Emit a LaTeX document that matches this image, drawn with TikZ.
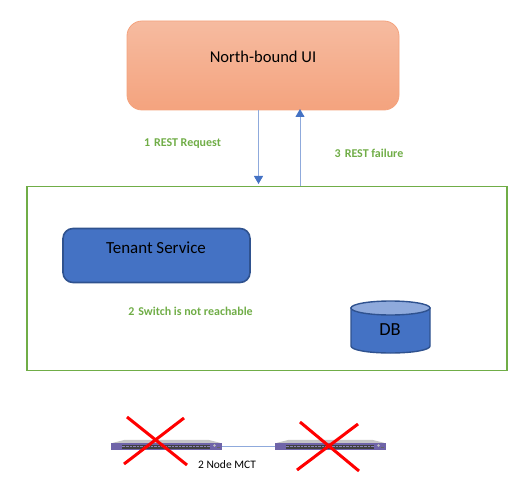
\documentclass[tikz,border=0pt]{standalone}
\usepackage{fontspec}
\setmainfont{Carlito}
\usetikzlibrary{arrows.meta,calc}
\definecolor{blueF}{HTML}{4472C4}
\definecolor{blueD}{HTML}{2F528F}
\definecolor{blueL}{HTML}{8FAADC}
\definecolor{grn}{HTML}{70AD47}
\definecolor{orgT}{HTML}{F6BBA0}
\definecolor{orgB}{HTML}{F4A37E}
\definecolor{sw}{HTML}{6F64A8}
\tikzset{
  x=1bp,y=-1bp,
  uibox/.style={draw=orgB,line width=0.8bp,rounded corners=15bp,top color=orgT,bottom color=orgB,minimum width=272bp,minimum height=89bp,inner sep=0pt},
  svcbox/.style={draw=blueD,line width=1.6bp,rounded corners=10bp,fill=blueF,minimum width=187bp,minimum height=54bp,inner sep=0pt},
  region/.style={draw=grn,line width=1.5bp,minimum width=480bp,minimum height=184bp,inner sep=0pt},
  flow/.style={draw=blueL,line width=0.9bp,-{Triangle[length=8bp,width=9bp,color=blueF,fill=blueF]}},
  steplabel/.style={text=grn,font=\fontsize{12}{14}\selectfont\bfseries,inner sep=0pt},
  bigtext/.style={font=\fontsize{17}{20}\selectfont,inner sep=0pt},
  swbody/.style={fill=sw,draw=none,minimum width=111bp,minimum height=7bp,inner sep=0pt},
  cross/.style={draw=red,line width=3bp},
}
\begin{document}
\begin{tikzpicture}
\useasboundingbox (0,0) rectangle (524,485);
% north-bound UI
\node[uibox] (ui) at (263,65.5) {};
\node[font=\fontsize{16.6}{20}\selectfont,inner sep=0pt] (uit) at (263,57) {North-bound UI};
% region
\node[region] (reg) at (267,278.5) {};
% arrows
\coordinate (reqs) at (258.5,110);
\coordinate (reqe) at (258.5,184);
\coordinate (fails) at (300,186);
\coordinate (faile) at (300,109);
\draw[flow] (reqs) -- (reqe);
\draw[flow] (fails) -- (faile);
\node[steplabel] (l1) at (182.5,144) {1\hspace{4bp}REST Request};
\node[steplabel] (l3) at (369,153) {3\hspace{4bp}REST failure};
% tenant
\node[svcbox] (svc) at (156.5,255.5) {};
\node[bigtext] (svct) at (156,247.5) {Tenant Service};
\node[steplabel] (l2) at (190.5,311.5) {2\hspace{4bp}Switch is not reachable};
% DB
\path[fill=blueF,draw=blueD,line width=1.4bp] (351,308) -- (351,346) .. controls (351,350) and (368,353) .. (390.5,353) .. controls (413,353) and (430,350) .. (430,346) -- (430,308) -- cycle;
\draw[blueD,line width=1.4bp,fill=blueL] (390.5,308) ellipse[x radius=39.5bp,y radius=7bp];
\node[font=\fontsize{18.5}{20}\selectfont,inner sep=0pt] (db) at (390,330) {DB};
% switches
\node[swbody] (s1) at (166.5,446.5) {};
\node[swbody] (s2) at (330.5,446.5) {};
\foreach \n in {s1,s2}{
  \fill[gray!45] ($(\n.north west)+(2,0)$) -- ($(\n.north west)+(14,-3)$) -- ($(\n.north east)+(-14,-3)$) -- ($(\n.north east)+(-2,0)$) -- cycle;
  \fill[black!75] ($(\n.center)+(-45,-2)$) rectangle ($(\n.center)+(43,2)$);
  \draw[sw!80!white,line width=0.4bp,densely dotted] ($(\n.center)+(-45,0)$) -- ($(\n.center)+(43,0)$);
  \fill[white!75!black] ($(\n.center)+(48,-1)$) circle[radius=1.3];
  \fill[black!60] ($(\n.center)+(50.5,0)$) rectangle ($(\n.center)+(53,1.5)$);
}
\draw[blueL,line width=0.8bp] (s1.east) -- (s2.west);
\node[font=\fontsize{11.5}{14}\selectfont,inner sep=0pt] (mct) at (227,464.5) {2 Node MCT};
% crosses
\coordinate (a1) at (127,417); \coordinate (a2) at (187,465);
\coordinate (a3) at (184,418); \coordinate (a4) at (124,464);
\coordinate (b1) at (300,422); \coordinate (b2) at (359,471);
\coordinate (b3) at (358,424); \coordinate (b4) at (297,470);
\draw[cross] (a1) -- (a2);
\draw[cross] (a3) -- (a4);
\draw[cross] (b1) -- (b2);
\draw[cross] (b3) -- (b4);
\end{tikzpicture}
\end{document}
